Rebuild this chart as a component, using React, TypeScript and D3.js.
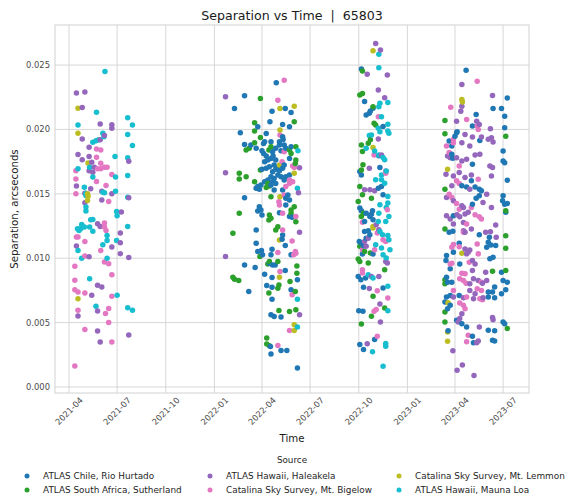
import React from "react";
import * as d3 from "d3";

// Day offsets are days since 2021-04-01 (UTC); values are separation in arcseconds.
const BASE_DATE = Date.UTC(2021, 3, 1);
const DAY_MS = 864e5;

const seriesNames = [
  "ATLAS Chile, Rio Hurtado",
  "ATLAS South Africa, Sutherland",
  "ATLAS Hawaii, Haleakela",
  "Catalina Sky Survey, Mt. Bigelow",
  "Catalina Sky Survey, Mt. Lemmon",
  "ATLAS Hawaii, Mauna Loa",
];
const seriesColors = ["#1f77b4", "#2ca02c", "#9467bd", "#e377c2", "#bcbd22", "#17becf"];

const chileRioHurtado: [number, number][] = [
  [332,.02261],[313,.02163],[392,.02362],[384,.02142],[409,.02163],[420,.02132],[380,.02059],[404,.02039],[324,.01974],[357,.0202],[373,.01969],[332,.01884],[344,.01879],[354,.01853],[368,.01891],[370,.01904],[398,.01904],[405,.01922],[398,.01879],[332,.0147],[360,.014],[363,.01375],[357,.01367],[365,.01336],[410,.01413],[417,.01323],[422,.01318],[398,.01354],[354,.0122],[404,.01181],[403,.01147],[409,.01098],[354,.01116],[357,.01052],[364,.0106],[366,.01026],[384,.0107],[382,.01026],[379,.00961],[385,.00948],[390,.00948],[332,.00948],[420,.01026],[409,.00904],[352,.00928],[340,.00742],[370,.00876],[384,.0085],[384,.00775],[374,.00788],[420,.00755],[432,.00832],[384,.00682],[382,.00561],[388,.00548],[401,.00543],[381,.00315],[382,.00256],[401,.00284],[412,.00284],[432,.00147],
  [365,.01835],[368,.01814],[373,.01793],[376,.01762],[370,.01749],[382,.01775],[386,.01793],[391,.01762],[388,.01724],[395,.01711],[379,.01711],[373,.01698],[365,.0169],[391,.0169],[398,.0168],[404,.01698],[385,.01672],[382,.01633],[388,.0162],[395,.01646],[401,.01633],[376,.01607],[370,.01594],[363,.01568],[357,.01556],[354,.01543],[360,.01535],[382,.01568],[385,.01594],[391,.01581],[407,.01607],[410,.01633],[417,.01646],[414,.01491],[410,.01465],[417,.01452],[404,.0153],[388,.0153],[407,.01724],[417,.01775],[401,.01835],[410,.01853],[420,.01866],[391,.01853],[385,.01827],[404,.01943],[407,.01879],[417,.0202],[382,.01904],
  [553,.02469],[559,.02216],[575,.02164],[570,.02143],[562,.02112],[568,.02125],[594,.02022],[586,.01795],[588,.01704],[550,.01673],[553,.01647],[585,.01544],[591,.01557],[594,.01492],[550,.01389],[553,.01368],[562,.0135],[574,.01368],[572,.01342],[569,.01324],[575,.01298],[559,.01286],[559,.01208],[566,.01213],[569,.01182],[562,.01156],[549,.0113],[553,.01118],[557,.01097],[575,.01032],[555,.01032],[547,.00859],[552,.00833],[561,.00846],[557,.00774],[594,.00769],[548,.00593],[556,.00588],[578,.00368],[550,.0033],[557,.00291],
  [751,.02459],[829,.02245],[802,.02162],[818,.02162],[770,.02116],[824,.02103],[763,.02026],[733,.01974],[730,.01948],[734,.01982],[824,.02013],[777,.01915],[719,.0191],[724,.01871],[821,.01832],[724,.01807],[726,.01776],[763,.01729],[821,.01755],[824,.01742],[829,.01606],[761,.01601],[743,.01562],[752,.01554],[768,.01554],[776,.01536],[780,.01523],[770,.01466],[776,.01485],[763,.0142],[821,.01485],[829,.01425],[824,.0142],[820,.01446],[826,.01356],[727,.0133],[719,.01201],[726,.01209],[776,.01183],[795,.01162],[793,.01124],[798,.01103],[790,.01085],[807,.01098],[738,.01116],[727,.01046],[714,.01021],[713,.00982],[721,.00918],[739,.00956],[796,.00995],[802,.01008],[818,.00892],[821,.00827],[829,.00814],[826,.00755],[818,.00724],[714,.00853],[716,.00814],[724,.00814],[805,.00776],[801,.00737],[793,.00737],[793,.00698],[805,.00693],[738,.00711],[721,.00711],[714,.00698],[711,.0066],[721,.00634],[716,.00608],[733,.00518],[743,.00492],[821,.00505],[824,.00492],[752,.00466],[717,.00436],[763,.00394],[765,.00343],[793,.00441],[805,.00436],[801,.00363],[805,.00358],
];

const southAfricaSutherland: [number, number][] = [
  [362,.0224],[351,.02052],[351,.01987],[362,.01938],[351,.01897],[335,.0184],[341,.01853],[378,.0184],[382,.01866],[426,.02059],[429,.01866],[417,.0184],[420,.01814],[429,.01762],[428,.01736],[322,.01659],[322,.01615],[335,.01633],[362,.01685],[351,.01594],[376,.01581],[373,.0155],[379,.0156],[382,.01478],[322,.01349],[379,.01336],[382,.0131],[378,.01297],[395,.01245],[391,.0122],[420,.01375],[420,.01349],[426,.014],[429,.01284],[310,.01194],[361,.01013],[376,.00956],[379,.00974],[395,.00974],[431,.0094],[431,.00884],[310,.00853],[321,.00827],[313,.00837],[418,.00819],[428,.00742],[397,.00793],[395,.00767],[378,.00729],[397,.00594],[417,.00587],[429,.006],[374,.0038],[374,.00333],[379,.0032],
  [555,.02453],[555,.0228],[550,.02267],[575,.02177],[577,.02048],[580,.02035],[570,.01919],[566,.01893],[553,.0188],[555,.01828],[556,.01725],[553,.01686],[550,.01557],[555,.01492],[572,.01466],[547,.0144],[557,.0135],[553,.01324],[550,.01092],[559,.01053],[570,.0104],[547,.00994],[550,.00975],[566,.00963],[597,.00911],[575,.00704],[597,.00614],[572,.00549],[553,.0049],
  [711,.0207],[711,.01966],[826,.01948],[711,.01536],[826,.01369],[711,.01227],[826,.01175],[826,.01077],[801,.00899],[826,.00905],[711,.00832],[711,.00802],[711,.00582],[711,.00505],[829,.00454],
];

const hawaiiHaleakela: [number, number][] = [
  [14,.02283],[30,.0229],[25,.0217],[25,.01926],[17,.01805],[25,.01764],[38,.01862],[38,.0179],[43,.01745],[48,.01707],[38,.0168],[45,.01668],[59,.02043],[67,.01952],[81,.02037],[81,.0201],[14,.0156],[30,.01505],[30,.0143],[62,.0152],[62,.01453],[81,.015],[113,.01753],[113,.01469],[99,.01358],[54,.01267],[59,.01247],[97,.01195],[97,.0112],[14,.01094],[38,.01012],[81,.01087],[97,.01035],[113,.01006],[43,.00712],[54,.0079],[62,.00776],[54,.0059],[17,.00552],[54,.00435],[59,.0035],[113,.00404],[59,.0192],[41,.0154],
  [296,.02253],[296,.01664],[296,.01013],[436,.01703],[434,.01509],[436,.01202],[436,.00561],
  [580,.02668],[589,.02616],[564,.02428],[602,.02422],[585,.02306],[597,.02247],[585,.01926],[591,.01802],[568,.01699],[559,.01531],[569,.01531],[578,.01523],[581,.0126],[586,.01221],[559,.0113],[566,.01156],[562,.01092],[599,.00975],[602,.00963],[572,.00859],[586,.00859],[568,.00764],[588,.00645],[589,.00505],[564,.00335],
  [743,.02348],[801,.02263],[743,.0218],[741,.02142],[733,.02064],[771,.02064],[776,.02039],[797,.02005],[749,.01961],[763,.01941],[780,.01941],[793,.01923],[802,.01902],[799,.01936],[743,.01897],[758,.01871],[716,.01794],[721,.01781],[733,.01781],[743,.01755],[752,.01768],[768,.01802],[777,.01807],[796,.01716],[801,.01704],[799,.01639],[713,.01652],[727,.01639],[738,.01665],[749,.01626],[761,.01647],[724,.01562],[758,.01536],[714,.01472],[727,.01446],[743,.01407],[746,.01394],[749,.01343],[734,.01338],[755,.01356],[790,.01497],[783,.01433],[799,.01394],[714,.0133],[721,.01304],[739,.01322],[746,.01278],[727,.01265],[746,.01214],[749,.01201],[761,.01227],[807,.01258],[788,.01201],[797,.01206],[808,.01162],[749,.01072],[758,.01064],[755,.01046],[752,.01034],[763,.00982],[768,.00956],[763,.00905],[765,.0084],[788,.00892],[790,.00827],[774,.00827],[782,.00806],[758,.00802],[758,.0075],[768,.00724],[727,.00698],[746,.00693],[765,.00686],[783,.00693],[743,.00569],[739,.00531],[736,.00505],[801,.00539],[802,.00523],[776,.00466],[774,.00358],[771,.00343],[726,.00281],[744,.0017],[734,.00131],[766,.0009],
];

const mtBigelow: [number, number][] = [
  [13,.0168],[13,.01616],[13,.015],[14,.01164],[17,.01164],[30,.0113],[30,.01017],[11,.00937],[11,.00828],[11,.00756],[17,.00738],[30,.0073],[17,.00596],[30,.00446],[11,.00164],[52,.01849],[60,.01841],[52,.01784],[60,.01738],[54,.01694],[60,.01694],[67,.01707],[72,.01707],[52,.01596],[70,.01565],[75,.0144],[81,.0165],[67,.01273],[67,.01242],[70,.01216],[60,.0106],[67,.0097],[75,.00957],[81,.00872],[81,.00704],[75,.00609],[69,.0057],[75,.005],[81,.0035],
  [407,.02382],[395,.02227],[399,.01956],[407,.01827],[403,.01749],[423,.01716],[426,.01705],[417,.01607],[423,.01594],[417,.01581],[410,.01556],[407,.01491],[397,.01439],[398,.01413],[404,.01349],[429,.01323],[404,.0122],[422,.01134],[428,.01052],[425,.01026],[429,.01039],[395,.01044],[399,.00897],[422,.00716],[417,.00439],[395,.00323],
  [585,.02099],[577,.01802],[599,.01678],[599,.0166],[602,.01376],[555,.0128],[583,.01195],[599,.0113],[594,.01143],[555,.01066],[578,.01066],[555,.00911],[555,.00885],[583,.00748],[603,.00691],[577,.00588],[581,.00601],[583,.00394],
  [772,.02374],[722,.02173],[752,.02077],[772,.02026],[774,.02],[727,.01923],[727,.01897],[714,.01871],[719,.0182],[738,.01716],[774,.01613],[733,.01601],[738,.0158],[719,.01497],[724,.01472],[733,.01425],[738,.01381],[761,.01394],[768,.01338],[776,.01322],[780,.01304],[752,.01265],[746,.01201],[727,.01106],[724,.01085],[738,.0109],[772,.01111],[774,.01034],[724,.00961],[721,.00956],[757,.00968],[743,.00884],[749,.00879],[739,.0084],[746,.00827],[751,.00806],[780,.00814],[772,.00763],[780,.0075],[727,.0075],[752,.00698],[777,.00686],[782,.00678],[739,.00652],[746,.00634],[749,.00608],[755,.00402],[752,.00351],
];

const mtLemmon: [number, number][] = [
  [17,.02164],[17,.0197],[36,.0174],[35,.015],[36,.01482],[35,.01448],[17,.00686],
  [399,.02163],[426,.0218],[399,.01995],[398,.01724],[426,.01659],[399,.01478],[398,.01142],[398,.00853],[426,.00483],[426,.00439],
  [575,.02611],[575,.01859],[575,.01247],[575,.01234],
  [743,.02232],[744,.02214],[716,.01691],[743,.01039],[717,.00655],[716,.00428],[716,.00356],
];

const hawaiiMaunaLoa: [number, number][] = [
  [68,.0245],[52,.02133],[17,.02035],[64,.0197],[66,.01944],[45,.019],[51,.01913],[56,.01919],[87,.0179],[111,.0209],[120,.02035],[111,.0196],[120,.01875],[111,.0178],[111,.01642],[88,.0163],[39,.01707],[45,.0163],[29,.01552],[64,.01513],[67,.01508],[88,.0152],[111,.01474],[32,.01505],[32,.01487],[32,.01397],[32,.01366],[41,.01298],[45,.013],[90,.01363],[91,.0133],[24,.01262],[25,.01249],[29,.01242],[22,.01229],[19,.01216],[16,.01229],[39,.01242],[45,.0121],[72,.01177],[90,.01138],[72,.01138],[64,.01105],[111,.01247],[17,.0106],[24,.01],[72,.00999],[39,.00841],[91,.00712],[51,.00627],[111,.00616],[120,.00596],[17,.01694],
  [433,.01835],[432,.01543],[432,.00682],[432,.00465],
  [586,.02583],[586,.02479],[603,.0221],[588,.02203],[586,.02177],[591,.02099],[603,.0204],[603,.01988],[605,.0197],[588,.01983],[585,.0201],[572,.01957],[568,.01952],[562,.01854],[578,.01833],[586,.01802],[594,.01782],[597,.01764],[591,.01647],[600,.01678],[580,.01609],[591,.01609],[597,.01583],[603,.01479],[603,.01428],[588,.01415],[600,.01394],[586,.0135],[605,.01324],[585,.01286],[599,.01286],[588,.01208],[593,.01182],[603,.01177],[605,.01143],[580,.01105],[591,.01079],[607,.01066],[594,.01027],[600,.01001],[566,.00872],[575,.00846],[603,.00782],[603,.00593],[599,.00338],[599,.00317],[574,.00273],[594,.00162],
];

const seriesData = [chileRioHurtado, southAfricaSutherland, hawaiiHaleakela, mtBigelow, mtLemmon, hawaiiMaunaLoa];

const yTicks = [0, 0.005, 0.01, 0.015, 0.02, 0.025];
const xTickLabels = ["2021-04", "2021-07", "2021-10", "2022-01", "2022-04", "2022-07", "2022-10", "2023-01", "2023-04", "2023-07"];
const xDomain = ["2021-03-05T12:00:00Z", "2023-08-19T00:00:00Z"];
const yDomain = [-0.000466, 0.02811];

const FONT = "DejaVu Sans, Verdana, sans-serif";

export default function App() {
  const W = 566, H = 495;
  const L = 55, R = 529, T = 25, B = 393;
  const x = d3.scaleUtc().domain(xDomain.map((s) => new Date(s))).range([L, R]);
  const y = d3.scaleLinear().domain(yDomain).range([B, T]);
  const parseMonth = d3.utcParse("%Y-%m");
  const xTicks = xTickLabels.map((s) => ({ label: s, date: parseMonth(s) as Date }));

  const points: { d: number; v: number; s: number }[] = [];
  seriesData.forEach((arr, s) => arr.forEach(([d, v]) => points.push({ d, v, s })));
  points.sort((a, b) => a.d - b.d);
  const toDate = (d: number) => new Date(BASE_DATE + d * DAY_MS);

  const legendCols = [27, 210, 399];
  const legendRows = [476, 490];
  const legendOrder = [0, 1, 2, 3, 4, 5];

  return (
    <div style={{ position: "absolute", left: 0, top: 0 }}>
      <svg width={W} height={H} style={{ display: "block", background: "#ffffff" }} fontFamily={FONT}>
        <rect x={0} y={0} width={W} height={H} fill="#ffffff" />
        {/* grid */}
        {yTicks.map((t) => (
          <line key={"gy" + t} x1={L} x2={R} y1={y(t)} y2={y(t)} stroke="#d2d2d2" strokeWidth={0.9} />
        ))}
        {xTicks.map((t) => (
          <line key={"gx" + t.label} x1={x(t.date)} x2={x(t.date)} y1={T} y2={B} stroke="#d2d2d2" strokeWidth={0.9} />
        ))}
        {/* points */}
        {points.map((p, i) => (
          <circle key={i} cx={x(toDate(p.d))} cy={y(p.v)} r={2.75} fill={seriesColors[p.s]} />
        ))}
        {/* frame */}
        <rect x={L} y={T} width={R - L} height={B - T} fill="none" stroke="#d2d2d2" strokeWidth={1} />
        {/* y tick labels */}
        {yTicks.map((t) => (
          <text key={"ty" + t} x={L - 5} y={y(t)} textAnchor="end" dominantBaseline="central" fontSize={8.4} fill="#4a4a4a">
            {d3.format(".3f")(t)}
          </text>
        ))}
        {/* x tick labels */}
        {xTicks.map((t) => (
          <text
            key={"tx" + t.label}
            transform={`translate(${x(t.date)},${B + 18}) rotate(-45)`}
            textAnchor="middle"
            dominantBaseline="central"
            fontSize={8.4}
            fill="#4a4a4a"
          >
            {t.label}
          </text>
        ))}
        {/* title */}
        <text x={(L + R) / 2} y={20} textAnchor="middle" fontSize={12.6} fill="#1a1a1a" style={{ whiteSpace: "pre" }}>
          {"Separation vs Time  |  65803"}
        </text>
        {/* axis labels */}
        <text x={(L + R) / 2} y={442} textAnchor="middle" fontSize={10.2} fill="#1a1a1a">Time</text>
        <text transform={`translate(14,${(T + B) / 2}) rotate(-90)`} textAnchor="middle" dominantBaseline="central" fontSize={10.2} fill="#1a1a1a">
          Separation, arcseconds
        </text>
        {/* legend */}
        <text x={(L + R) / 2} y={460} textAnchor="middle" dominantBaseline="central" fontSize={8.8} fill="#262626">Source</text>
        {legendOrder.map((s, i) => {
          const col = Math.floor(i / 2);
          const row = i % 2;
          return (
            <g key={"lg" + s}>
              <circle cx={legendCols[col]} cy={legendRows[row]} r={2.5} fill={seriesColors[s]} />
              <text x={legendCols[col] + 16} y={legendRows[row]} dominantBaseline="central" fontSize={8.9} fill="#262626">
                {seriesNames[s]}
              </text>
            </g>
          );
        })}
      </svg>
    </div>
  );
}
